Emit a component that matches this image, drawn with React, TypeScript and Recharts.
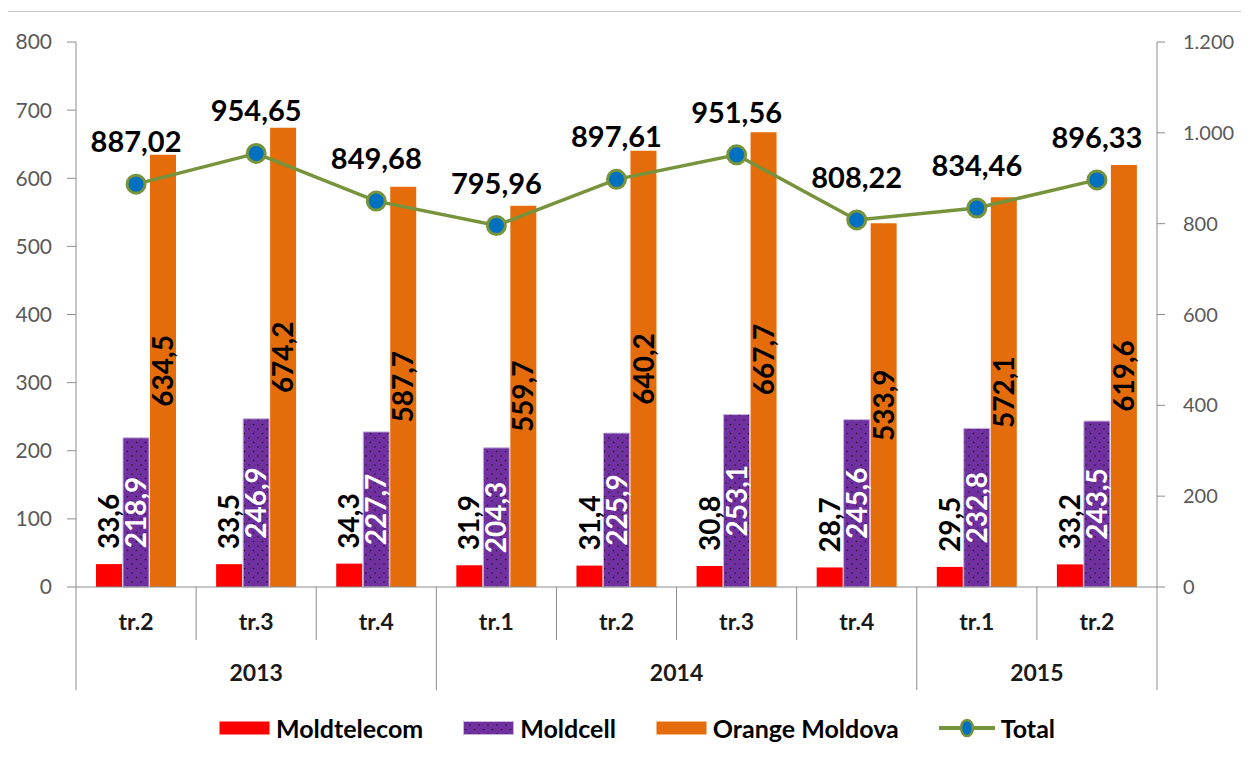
import React from 'react';
import { ComposedChart, Bar, Line, XAxis, YAxis, LabelList, Legend } from 'recharts';

const quarters = ['tr.2', 'tr.3', 'tr.4', 'tr.1', 'tr.2', 'tr.3', 'tr.4', 'tr.1', 'tr.2'];
const years = [
  { label: '2013', start: 0, count: 3 },
  { label: '2014', start: 3, count: 4 },
  { label: '2015', start: 7, count: 2 },
];
const moldtelecom = [33.6, 33.5, 34.3, 31.9, 31.4, 30.8, 28.7, 29.5, 33.2];
const moldcell = [218.9, 246.9, 227.7, 204.3, 225.9, 253.1, 245.6, 232.8, 243.5];
const orangeMoldova = [634.5, 674.2, 587.7, 559.7, 640.2, 667.7, 533.9, 572.1, 619.6];
const total = [887.02, 954.65, 849.68, 795.96, 897.61, 951.56, 808.22, 834.46, 896.33];
const leftTicks = [0, 100, 200, 300, 400, 500, 600, 700, 800];
const rightTicks = [0, 200, 400, 600, 800, 1000, 1200];

const data = quarters.map((q, i) => ({
  idx: i,
  q,
  moldtelecom: moldtelecom[i],
  moldcell: moldcell[i],
  orange: orangeMoldova[i],
  total: total[i],
}));

const W = 1233;
const H = 742;
const MARGIN = { top: 34, right: 24, bottom: 2, left: 8 };
const YW = 60;
const PLOT_W = W - MARGIN.left - MARGIN.right - 2 * YW;
const BAND = PLOT_W / quarters.length;
const AXIS = '#8c8c8c';
const TICK_COLOR = '#595959';
const FONT = 'Lato, "Open Sans", sans-serif';

const RED = '#FF0000';
const PURPLE = '#7030A0';
const ORANGE = '#E46C0A';
const GREEN = '#77933C';
const BLUE = '#0070C0';

const fmt1 = (v: number) => v.toFixed(1).replace('.', ',');
const fmt2 = (v: number) => v.toFixed(2).replace('.', ',');
const fmtRight = (v: number) =>
  v >= 1000 ? `${Math.floor(v / 1000)}.${String(v % 1000).padStart(3, '0')}` : String(v);

const box = (p: any) => {
  const vb = p.viewBox || {};
  return {
    x: Number(p.x ?? vb.x ?? 0),
    y: Number(p.y ?? vb.y ?? 0),
    width: Number(p.width ?? vb.width ?? 0),
    height: Number(p.height ?? vb.height ?? 0),
  };
};

const RedLabel = (p: any) => {
  const b = box(p);
  const cx = b.x + b.width / 2;
  const cy = b.y - 15;
  return (
    <text x={cx} y={cy} dy="0.36em" textAnchor="start" transform={`rotate(-90, ${cx}, ${cy})`}
      fontSize={28} fontWeight="bold" fill="#000" fontFamily={FONT}>
      {fmt1(Number(p.value))}
    </text>
  );
};

const InsideLabel = (color: string) => (p: any) => {
  const b = box(p);
  const cx = b.x + b.width / 2;
  const cy = b.y + b.height / 2;
  return (
    <text x={cx} y={cy} dy="0.36em" textAnchor="middle" transform={`rotate(-90, ${cx}, ${cy})`}
      fontSize={28} fontWeight="bold" fill={color} fontFamily={FONT}>
      {fmt1(Number(p.value))}
    </text>
  );
};

const TotalLabel = (p: any) => {
  const b = box(p);
  return (
    <text x={b.x} y={b.y - 32} textAnchor="middle" fontSize={29} fontWeight="bold" fill="#000" fontFamily={FONT}>
      {fmt2(Number(p.value))}
    </text>
  );
};

const XTick = (props: any) => {
  const { x, y, payload } = props;
  const i = typeof payload.index === 'number' ? payload.index : Number(payload.value);
  const half = BAND / 2;
  const left = x - half;
  const group = years.find((g) => g.start === i);
  const isLast = i === quarters.length - 1;
  return (
    <g>
      <line x1={left} x2={left} y1={y} y2={y + (group ? 103 : 53)} stroke={AXIS} strokeWidth={1} />
      {isLast && <line x1={x + half} x2={x + half} y1={y} y2={y + 103} stroke={AXIS} strokeWidth={1} />}
      <text x={x} y={y + 35} dy="0.35em" textAnchor="middle" fontSize={23} fontWeight="bold" fill="#1a1a1a" fontFamily={FONT}>
        {quarters[i]}
      </text>
      {group && (
        <text x={left + group.count * half} y={y + 86} dy="0.35em" textAnchor="middle" fontSize={23}
          fontWeight="bold" fill="#1a1a1a" fontFamily={FONT}>
          {group.label}
        </text>
      )}
    </g>
  );
};

const legendItems = [
  { name: 'Moldtelecom', kind: 'bar', fill: RED },
  { name: 'Moldcell', kind: 'bar', fill: 'url(#dots)' },
  { name: 'Orange Moldova', kind: 'bar', fill: ORANGE },
  { name: 'Total', kind: 'line', fill: BLUE },
];

const renderLegend = () => (
  <div style={{ display: 'flex', alignItems: 'center', height: 40, paddingLeft: 203, fontFamily: FONT }}>
    {legendItems.map((it) => (
      <div key={it.name} style={{ display: 'flex', alignItems: 'center', marginRight: 40 }}>
        <svg width={it.kind === 'bar' ? 51 : 56} height={20} style={{ marginRight: 6 }}>
          {it.kind === 'bar' ? (
            <rect x={0.5} y={3.5} width={50} height={13} fill={it.fill} stroke={it.name === 'Moldcell' ? '#C7B3DD' : 'none'} />
          ) : (
            <g>
              <line x1={0} x2={56} y1={10} y2={10} stroke={GREEN} strokeWidth={4} />
              <ellipse cx={28} cy={10} rx={6} ry={8} fill={BLUE} stroke={GREEN} strokeWidth={2.5} />
            </g>
          )}
        </svg>
        <span style={{ fontSize: 25, fontWeight: 'bold', color: '#000' }}>{it.name}</span>
      </div>
    ))}
  </div>
);

export default function App() {
  return (
    <div style={{ position: 'relative', width: W, height: H, fontFamily: FONT }}>
      <svg width={0} height={0} style={{ position: 'absolute' }}>
        <defs>
          <pattern id="dots" patternUnits="userSpaceOnUse" width={9} height={9}>
            <rect x={0} y={0} width={9} height={9} fill={PURPLE} />
            <circle cx={2.5} cy={2.5} r={0.8} fill="#1a1a1a" />
            <circle cx={7} cy={7} r={0.8} fill="#1a1a1a" />
          </pattern>
        </defs>
      </svg>
      <div style={{ position: 'absolute', left: -8, top: 3, width: 1249, height: 1, background: '#c8c8c8' }} />
      <ComposedChart width={W} height={H} data={data} margin={MARGIN} barGap={1}>
        <XAxis dataKey="idx" xAxisId="x" interval={0} tickLine={false} tickSize={0} tickMargin={0}
          axisLine={{ stroke: AXIS }} tick={<XTick />} height={121} />
        <YAxis yAxisId="left" orientation="left" width={YW} domain={[0, 800]} ticks={leftTicks}
          interval={0} axisLine={{ stroke: AXIS }} tickLine={{ stroke: AXIS }} tickSize={9} tickMargin={15}
          tick={{ fill: TICK_COLOR, fontSize: 21, fontFamily: FONT }} />
        <YAxis yAxisId="right" orientation="right" width={YW} domain={[0, 1200]} ticks={rightTicks}
          interval={0} axisLine={{ stroke: AXIS }} tickLine={{ stroke: AXIS }} tickSize={8} tickMargin={18}
          tickFormatter={fmtRight} tick={{ fill: TICK_COLOR, fontSize: 20, fontFamily: FONT, textAnchor: 'start' }} />
        <Legend verticalAlign="bottom" height={40} content={renderLegend} />
        <Bar dataKey="moldtelecom" name="Moldtelecom" xAxisId="x" yAxisId="left" fill={RED} barSize={26} isAnimationActive={false}>
          <LabelList dataKey="moldtelecom" content={RedLabel} />
        </Bar>
        <Bar dataKey="moldcell" name="Moldcell" xAxisId="x" yAxisId="left" fill="url(#dots)" stroke="#C7B3DD"
          strokeWidth={1} barSize={26} isAnimationActive={false}>
          <LabelList dataKey="moldcell" content={InsideLabel('#ffffff')} />
        </Bar>
        <Bar dataKey="orange" name="Orange Moldova" xAxisId="x" yAxisId="left" fill={ORANGE} barSize={26} isAnimationActive={false}>
          <LabelList dataKey="orange" content={InsideLabel('#000000')} />
        </Bar>
        <Line dataKey="total" name="Total" xAxisId="x" yAxisId="right" stroke={GREEN} strokeWidth={3.5}
          dot={{ r: 9, fill: BLUE, stroke: GREEN, strokeWidth: 3 }} activeDot={false} isAnimationActive={false}>
          <LabelList dataKey="total" content={TotalLabel} />
        </Line>
      </ComposedChart>
    </div>
  );
}
